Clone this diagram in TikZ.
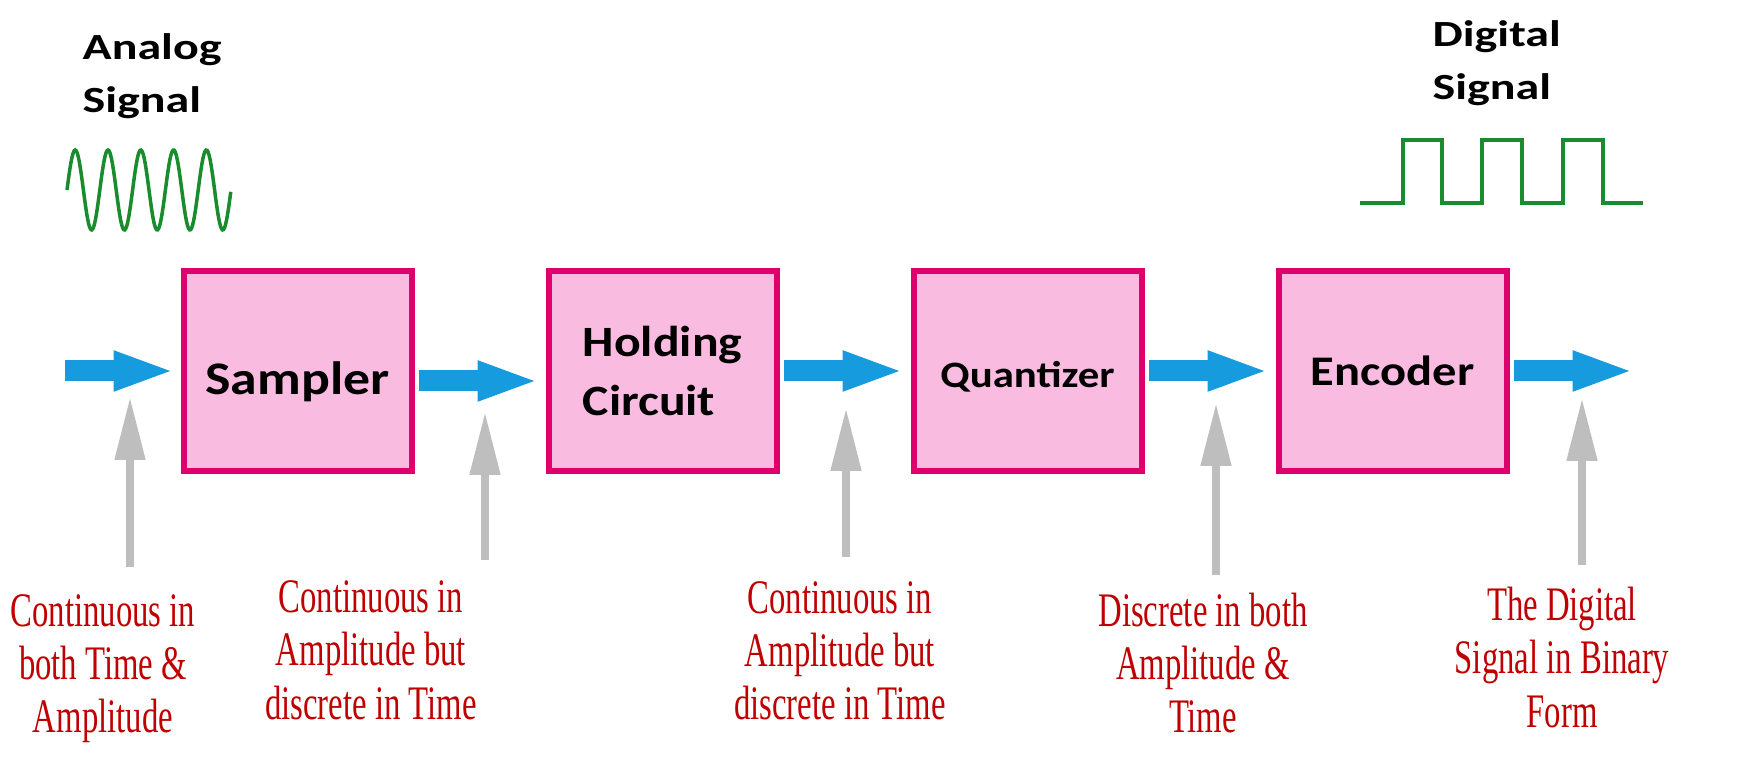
\documentclass[tikz,border=0pt]{standalone}
\usepackage{fontspec}
\usepackage{tikz}
\usetikzlibrary{positioning,arrows.meta}

\newfontfamily\boxfont{Carlito}[FakeStretch=1.15]
\newfontfamily\headfont{Carlito}[FakeStretch=1.3]
\newfontfamily\notefont{Liberation Serif}[FakeStretch=0.68]

\definecolor{boxfill}{RGB}{250,187,225}
\definecolor{boxline}{RGB}{222,0,108}
\definecolor{flowblue}{RGB}{22,156,222}
\definecolor{pointgray}{RGB}{190,190,190}
\definecolor{notered}{RGB}{192,0,0}
\definecolor{wavegreen}{RGB}{25,140,45}

\begin{document}
\begin{tikzpicture}[
    block/.style={draw=boxline, fill=boxfill, line width=0.06cm, minimum width=2.28cm, minimum height=2.0cm, inner sep=0pt},
    flowarrow/.style={draw=flowblue, line width=0.21cm, -{Triangle[length=0.62cm,width=0.36cm]}, shorten <=0.04cm, shorten >=0.06cm},
    pointarrow/.style={draw=pointgray, line width=0.08cm, -{Triangle[length=0.63cm,width=0.29cm]}},
    remark/.style={text=notered, align=center, inner sep=0pt, anchor=base, font=\notefont\fontsize{13.7pt}{15.1pt}\selectfont},
    heading/.style={align=left, inner sep=0pt, anchor=base west, font=\headfont\bfseries\fontsize{10.5pt}{15.1pt}\selectfont},
    signal/.style={draw=wavegreen, line width=1pt}
]
    \useasboundingbox (0,0) rectangle (17.4,7.56);

    \node[block, text height=0.57cm, text depth=0.1cm, font=\boxfont\bfseries\fontsize{13.3pt}{16pt}\selectfont] (samp) at (2.975,3.85) {Sampler};
    \node[block, right=1.31cm of samp, align=left, font=\boxfont\bfseries\fontsize{12.3pt}{17pt}\selectfont] (hold) {Holding\\Circuit};
    \node[block, right=1.31cm of hold, text height=0.41cm, text depth=0.08cm, font=\boxfont\bfseries\fontsize{10.6pt}{13pt}\selectfont] (quant) {Quantizer};
    \node[block, right=1.31cm of quant, font=\boxfont\bfseries\fontsize{12pt}{15pt}\selectfont] (enc) {Encoder};

    \coordinate (in) at (0.65,3.85);
    \coordinate[right=1.25cm of enc.east] (out);

    \draw[flowarrow, shorten <=0pt, shorten >=0.05cm] (in) -- (samp);
    \draw[flowarrow] ([yshift=-0.1cm]samp.east) -- ([yshift=-0.1cm]hold.west);
    \draw[flowarrow] (hold) -- (quant);
    \draw[flowarrow] (quant) -- (enc);
    \draw[flowarrow, shorten >=0pt] (enc) -- (out);

    \coordinate (b1) at (1.30,1.89);
    \coordinate (t1) at (1.30,3.59);
    \coordinate (b2) at (4.85,1.96);
    \coordinate (t2) at (4.85,3.44);
    \coordinate (b3) at (8.46,1.99);
    \coordinate (t3) at (8.46,3.48);
    \coordinate (b4) at (12.16,1.81);
    \coordinate (t4) at (12.16,3.53);
    \coordinate (b5) at (15.82,1.91);
    \coordinate (t5) at (15.82,3.58);

    \draw[pointarrow] (b1) -- (t1);
    \draw[pointarrow] (b2) -- (t2);
    \draw[pointarrow] (b3) -- (t3);
    \draw[pointarrow] (b4) -- (t4);
    \draw[pointarrow] (b5) -- (t5);

    \node[remark] (n1) at (1.03,0.23) {Continuous in\\both Time \&\\Amplitude};
    \node[remark] (n2) at (3.71,0.37) {Continuous in\\Amplitude but\\discrete in Time};
    \node[remark] (n3) at (8.40,0.36) {Continuous in\\Amplitude but\\discrete in Time};
    \node[remark] (n4) at (12.03,0.23) {Discrete in both\\Amplitude \&\\Time};
    \node[remark] (n5) at (15.62,0.29) {The Digital\\Signal in Binary\\Form};

    \node[heading] (ana) at (0.82,6.43) {Analog\\Signal};
    \node[heading] (dig) at (14.32,6.56) {Digital\\Signal};

    \draw[signal] plot[domain=0:1.64, samples=160] ({0.67+\x}, {5.66+0.40*sin(\x*1097.56)});
    \draw[signal] (13.60,5.53) -- (14.03,5.53) -- (14.03,6.16) -- (14.42,6.16) -- (14.42,5.53) -- (14.82,5.53) -- (14.82,6.16) -- (15.22,6.16) -- (15.22,5.53) -- (15.63,5.53) -- (15.63,6.16) -- (16.03,6.16) -- (16.03,5.53) -- (16.43,5.53);
\end{tikzpicture}
\end{document}
